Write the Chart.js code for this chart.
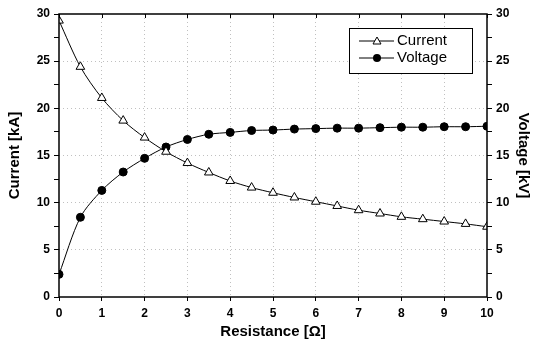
<!DOCTYPE html>
<html>
<head>
<meta charset="utf-8">
<script src="https://cdn.jsdelivr.net/npm/chart.js@4/dist/chart.umd.min.js"></script>
<style>
  html, body { margin:0; padding:0; background:#fff; }
  #wrap { width:534px; height:345px; }
</style>
</head>
<body>
<div id="wrap"><canvas id="c" width="534" height="345"></canvas></div>
<script>
// Resistance sweep
const resistance = [0,0.5,1,1.5,2,2.5,3,3.5,4,4.5,5,5.5,6,6.5,7,7.5,8,8.5,9,9.5,10];
const currentKA  = [29.3,24.4,21.1,18.7,16.9,15.4,14.2,13.2,12.3,11.6,11.05,10.55,10.1,9.65,9.2,8.85,8.5,8.25,8.0,7.75,7.45];
const voltageKV  = [2.4,8.45,11.3,13.25,14.7,15.9,16.7,17.25,17.45,17.65,17.7,17.8,17.85,17.9,17.9,17.95,18.0,18.0,18.05,18.05,18.1];
const xTicks = [0,1,2,3,4,5,6,7,8,9,10];

const FONT = '"Liberation Sans", Arial, sans-serif';
const toXY = (xs, ys) => xs.map((x, i) => ({x, y: ys[i]}));

// border box, inward ticks on the top edge, and the boxed legend
const framePlugin = {
  id: 'frame',
  afterDraw(chart){
    const {ctx, chartArea:a, scales} = chart;
    ctx.save();
    ctx.strokeStyle = '#000';
    ctx.lineWidth = 1.5;
    ctx.strokeRect(a.left, a.top, a.right - a.left, a.bottom - a.top);
    ctx.lineWidth = 1;
    ctx.beginPath();
    xTicks.forEach(v => {
      const px = Math.round(scales.x.getPixelForValue(v)) + 0.5;
      ctx.moveTo(px, a.top); ctx.lineTo(px, a.top + 4);
    });
    ctx.stroke();

    // legend
    const lx = 349, ly = 28, lw = 123, lh = 45;
    ctx.fillStyle = '#fff';
    ctx.fillRect(lx, ly, lw, lh);
    ctx.strokeStyle = '#000';
    ctx.strokeRect(lx + 0.5, ly + 0.5, lw, lh);
    ctx.font = '15px ' + FONT;
    ctx.textBaseline = 'middle';
    chart.data.datasets.forEach((ds, i) => {
      const cy = ly + 13 + i * 17;
      ctx.beginPath();
      ctx.strokeStyle = '#000';
      ctx.lineWidth = 1;
      ctx.moveTo(lx + 10, cy); ctx.lineTo(lx + 45, cy);
      ctx.stroke();
      const cx = lx + 28;
      if (ds.pointStyle === 'triangle') {
        ctx.beginPath();
        ctx.moveTo(cx, cy - 4); ctx.lineTo(cx + 4, cy + 3); ctx.lineTo(cx - 4, cy + 3);
        ctx.closePath();
        ctx.fillStyle = '#fff'; ctx.fill(); ctx.stroke();
      } else {
        ctx.beginPath();
        ctx.arc(cx, cy, 4, 0, Math.PI * 2);
        ctx.fillStyle = '#000'; ctx.fill();
      }
      ctx.fillStyle = '#000';
      ctx.fillText(ds.label, lx + 48, cy);
    });
    ctx.restore();
  }
};

const tickFont = {family: FONT, size: 12, weight: 'bold'};
const titleFont = {family: FONT, size: 15, weight: 'bold'};
const yGrid = {
  color: c => (c.tick && c.tick.value % 5 === 0 && c.tick.value !== 0 && c.tick.value !== 30) ? 'rgba(150,150,150,0.6)' : 'rgba(0,0,0,0)',
  tickColor: '#000',
  tickLength: 5,
  tickWidth: 1,
  drawOnChartArea: true
};

new Chart(document.getElementById('c'), {
  type: 'line',
  data: {
    datasets: [
      {
        label: 'Current',
        data: toXY(resistance, currentKA),
        yAxisID: 'y',
        borderColor: '#000',
        borderWidth: 1,
        pointStyle: 'triangle',
        pointRadius: 5,
        pointBackgroundColor: '#fff',
        pointBorderColor: '#000',
        pointBorderWidth: 1,
        tension: 0.3
      },
      {
        label: 'Voltage',
        data: toXY(resistance, voltageKV),
        yAxisID: 'y1',
        borderColor: '#000',
        borderWidth: 1,
        pointStyle: 'circle',
        pointRadius: 4,
        pointBackgroundColor: '#000',
        pointBorderColor: '#000',
        tension: 0.3
      }
    ]
  },
  options: {
    responsive: false,
    animation: false,
    devicePixelRatio: 1,
    layout: { padding: { top: 14, left: 0, right: 0, bottom: 0 } },
    plugins: { legend: { display: false }, tooltip: { enabled: false } },
    scales: {
      x: {
        type: 'linear', min: 0, max: 10,
        afterBuildTicks: s => { s.ticks = xTicks.map(v => ({value: v})); },
        afterFit: s => { s.height = 48; },
        ticks: { color: '#000', font: tickFont, padding: 5, maxRotation: 0 },
        grid: {
          color: c => (c.tick && c.tick.value > 0 && c.tick.value < 10) ? 'rgba(150,150,150,0.6)' : 'rgba(0,0,0,0)',
          tickColor: '#000', tickLength: 4
        },
        border: { display: false, dash: [1, 3] },
        title: { display: true, text: 'Resistance [Ω]', color: '#000', font: titleFont, padding: {top: 6} }
      },
      y: {
        position: 'left', min: 0, max: 30,
        afterFit: s => { s.width = 59; },
        ticks: { stepSize: 2.5, color: '#000', font: tickFont, padding: 4,
                 callback: v => (v % 5 === 0 ? v : '') },
        grid: yGrid,
        border: { display: false, dash: [1, 3] },
        title: { display: true, text: 'Current [kA]', color: '#000', font: titleFont, padding: {top: 6, bottom: 2} }
      },
      y1: {
        position: 'right', min: 0, max: 30,
        afterFit: s => { s.width = 47; },
        ticks: { stepSize: 2.5, color: '#000', font: tickFont, padding: 4,
                 callback: v => (v % 5 === 0 ? v : '') },
        grid: { drawOnChartArea: false, color: '#000', tickLength: 5 },
        border: { display: false },
        title: { display: true, text: 'Voltage [kV]', color: '#000', font: titleFont, padding: {top: 2, bottom: 4} }
      }
    }
  },
  plugins: [framePlugin]
});
</script>
</body>
</html>
